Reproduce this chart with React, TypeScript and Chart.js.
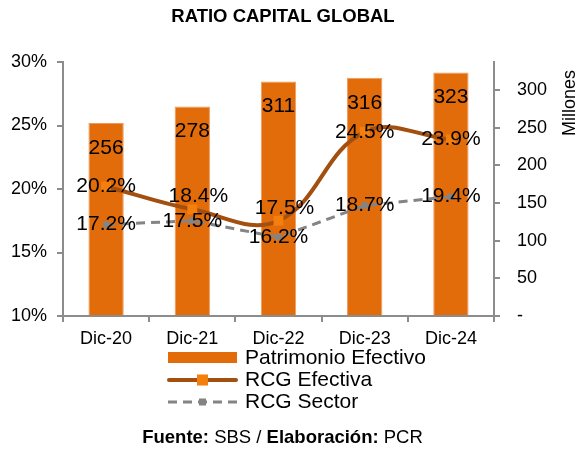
import { useEffect, useRef } from 'react';
import { Chart, registerables } from 'chart.js';

Chart.register(...registerables);

const categories = ['Dic-20', 'Dic-21', 'Dic-22', 'Dic-23', 'Dic-24'];
const patrimonioEfectivo = [256, 278, 311, 316, 323];
const rcgEfectiva = [20.2, 18.4, 17.5, 24.5, 23.9];
const rcgSector = [17.2, 17.5, 16.2, 18.7, 19.4];
const leftTicks = [10, 15, 20, 25, 30];
const rightTicks = [0, 50, 100, 150, 200, 250, 300];

const FONT = '"Liberation Sans", Arial, sans-serif';
const BAR = '#E36C0A';
const BAR_EDGE = '#EE9A5E';
const LINE_E = '#A24F10';
const MARK_E = '#F57F0C';
const GRAY = '#848484';
const AXIS = '#8C8C8C';

const fmt = (v: number) => v.toFixed(1) + '%';

const decor = {
  id: 'decor',
  afterDatasetsDraw(chart: any) {
    const ctx = chart.ctx;
    ctx.save();
    ctx.font = `21px ${FONT}`;
    ctx.fillStyle = '#000';
    ctx.textAlign = 'center';
    ctx.textBaseline = 'middle';
    const mB = chart.getDatasetMeta(0);
    mB.data.forEach((el: any, i: number) => {
      ctx.fillText(String(patrimonioEfectivo[i]), el.x, el.y + 25);
    });
    const mE = chart.getDatasetMeta(1);
    const mS = chart.getDatasetMeta(2);
    mS.data.forEach((el: any, i: number) => {
      ctx.fillText(fmt(rcgSector[i]), el.x, el.y);
    });
    mE.data.forEach((el: any, i: number) => {
      const other = mS.data[i];
      const close = Math.abs(other.y - el.y) < 22;
      ctx.fillText(fmt(rcgEfectiva[i]), el.x + (close ? 6 : 0), el.y - (close ? 13 : 0));
    });
    ctx.restore();
  },
  afterDraw(chart: any) {
    const ctx = chart.ctx;
    ctx.save();
    // title
    ctx.fillStyle = '#000';
    ctx.textBaseline = 'middle';
    ctx.textAlign = 'center';
    ctx.font = `bold 18.5px ${FONT}`;
    ctx.fillText('RATIO CAPITAL GLOBAL', 283, 17);

    // right axis title
    ctx.save();
    ctx.translate(570, 103);
    ctx.rotate(-Math.PI / 2);
    ctx.font = `18px ${FONT}`;
    ctx.fillText('Millones', 0, 0);
    ctx.restore();

    // legend
    const lx0 = 168, lx1 = 237, tx = 245;
    ctx.textAlign = 'left';
    ctx.font = `21px ${FONT}`;
    // row 1
    ctx.fillStyle = BAR;
    ctx.fillRect(lx0, 352, lx1 - lx0, 11);
    ctx.fillStyle = '#000';
    ctx.fillText('Patrimonio Efectivo', tx, 358);
    // row 2
    ctx.strokeStyle = LINE_E;
    ctx.lineWidth = 4;
    ctx.lineCap = 'round';
    ctx.beginPath();
    ctx.moveTo(lx0 + 1, 380);
    ctx.lineTo(lx1 - 1, 380);
    ctx.stroke();
    ctx.fillStyle = MARK_E;
    ctx.fillRect(197, 374.5, 11, 11);
    ctx.fillStyle = '#000';
    ctx.fillText('RCG Efectiva', tx, 380);
    // row 3
    ctx.strokeStyle = GRAY;
    ctx.lineWidth = 3;
    ctx.lineCap = 'butt';
    ctx.setLineDash([9, 6]);
    ctx.beginPath();
    ctx.moveTo(lx0, 402);
    ctx.lineTo(lx1, 402);
    ctx.stroke();
    ctx.setLineDash([]);
    ctx.fillStyle = GRAY;
    ctx.fillRect(199, 398.5, 7, 7);
    ctx.fillStyle = '#000';
    ctx.fillText('RCG Sector', tx, 402);

    // footer
    const parts: [string, boolean][] = [
      ['Fuente:', true],
      [' SBS / ', false],
      ['Elaboración:', true],
      [' PCR', false],
    ];
    let total = 0;
    const widths = parts.map(([t, b]) => {
      ctx.font = `${b ? 'bold ' : ''}18.5px ${FONT}`;
      const w = ctx.measureText(t).width;
      total += w;
      return w;
    });
    let x = 282.5 - total / 2;
    parts.forEach(([t, b], i) => {
      ctx.font = `${b ? 'bold ' : ''}18.5px ${FONT}`;
      ctx.fillText(t, x, 438);
      x += widths[i];
    });
    ctx.restore();
  },
};

export default function App() {
  const ref = useRef<HTMLCanvasElement>(null);
  useEffect(() => {
    const chart = new Chart(ref.current!, {
      data: {
        labels: categories,
        datasets: [
          {
            type: 'bar',
            label: 'Patrimonio Efectivo',
            data: patrimonioEfectivo,
            yAxisID: 'y1',
            backgroundColor: BAR,
            borderColor: BAR_EDGE,
            borderWidth: { top: 1, left: 1, right: 1, bottom: 0 },
            categoryPercentage: 1,
            barPercentage: 0.41,
            order: 3,
          },
          {
            type: 'line',
            label: 'RCG Efectiva',
            data: rcgEfectiva,
            yAxisID: 'y',
            borderColor: LINE_E,
            borderWidth: 4,
            tension: 0.4,
            pointStyle: 'rect',
            pointRadius: 7,
            pointBorderWidth: 0,
            pointBackgroundColor: MARK_E,
            order: 1,
          },
          {
            type: 'line',
            label: 'RCG Sector',
            data: rcgSector,
            yAxisID: 'y',
            borderColor: GRAY,
            borderWidth: 3,
            borderDash: [9, 6],
            tension: 0,
            pointStyle: 'rect',
            pointRadius: 4.5,
            pointBorderWidth: 0,
            pointBackgroundColor: GRAY,
            order: 2,
          },
        ],
      } as any,
      options: {
        responsive: false,
        animation: false,
        devicePixelRatio: 1,
        layout: { padding: { top: 62, left: 0, right: 0, bottom: 0 } },
        plugins: {
          legend: { display: false },
          title: { display: false },
          tooltip: { enabled: false },
        },
        scales: {
          x: {
            type: 'category',
            offset: true,
            grid: {
              display: true,
              drawOnChartArea: false,
              drawTicks: true,
              tickLength: 6,
              color: AXIS,
              lineWidth: 2,
              offset: true,
            },
            border: { display: true, color: AXIS, width: 2 },
            ticks: { font: { family: FONT, size: 18 }, color: '#000', padding: 6, maxRotation: 0 },
            afterFit: (s: any) => {
              s.height = 136;
            },
          },
          y: {
            type: 'linear',
            position: 'left',
            min: 10,
            max: 30,
            afterBuildTicks: (s: any) => {
              s.ticks = leftTicks.map((v) => ({ value: v }));
            },
            grid: {
              drawOnChartArea: false,
              drawTicks: true,
              tickLength: 6,
              color: AXIS,
              lineWidth: 2,
            },
            border: { display: true, color: AXIS, width: 2 },
            ticks: {
              font: { family: FONT, size: 18 },
              color: '#000',
              padding: 10,
              callback: (v: any) => v + '%',
            },
            afterFit: (s: any) => {
              s.width = 63;
            },
          },
          y1: {
            type: 'linear',
            position: 'right',
            min: 0,
            max: 337,
            afterBuildTicks: (s: any) => {
              s.ticks = rightTicks.map((v) => ({ value: v }));
            },
            grid: {
              drawOnChartArea: false,
              drawTicks: true,
              tickLength: 6,
              color: AXIS,
              lineWidth: 2,
            },
            border: { display: true, color: AXIS, width: 2 },
            ticks: {
              font: { family: FONT, size: 18 },
              color: '#000',
              padding: 17,
              callback: (v: any) => (v === 0 ? '-' : String(v)),
            },
            afterFit: (s: any) => {
              s.width = 87;
            },
          },
        },
      } as any,
      plugins: [decor],
    });
    return () => chart.destroy();
  }, []);
  return (
    <div style={{ position: 'fixed', left: 0, top: 0, width: 581, height: 452, background: '#fff' }}>
      <canvas ref={ref} width={581} height={452} style={{ display: 'block' }} />
    </div>
  );
}
